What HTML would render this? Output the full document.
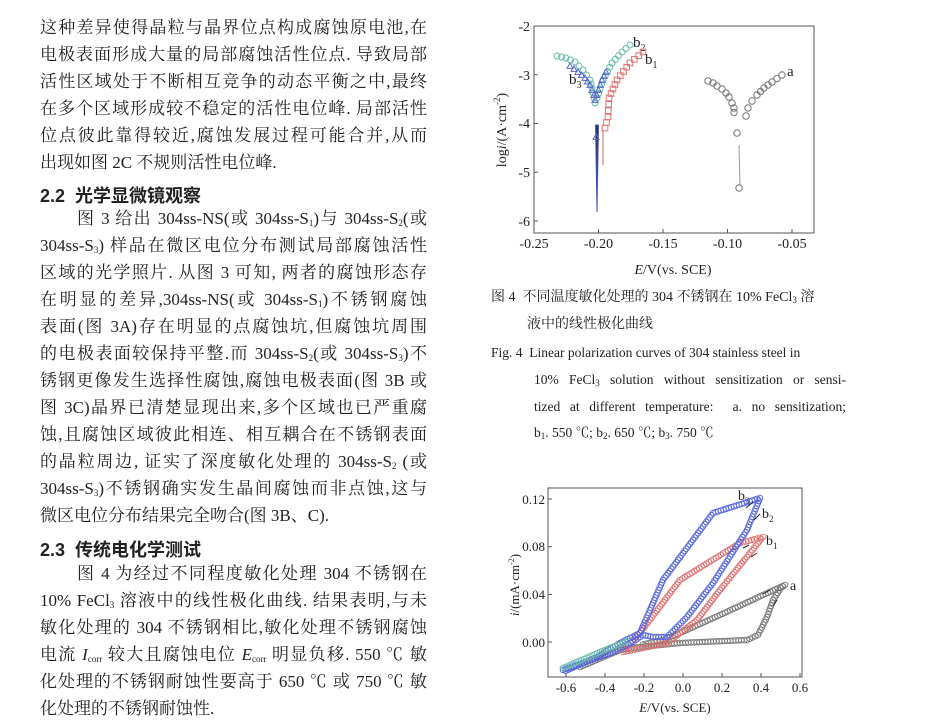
<!DOCTYPE html>
<html><head><meta charset="utf-8">
<style>
html,body{margin:0;padding:0;background:#fff;}
body{width:941px;height:724px;position:relative;overflow:hidden;font-family:"Liberation Serif","Noto Serif CJK SC","Noto Sans CJK SC",serif;color:#222;}
.l{position:absolute;left:40px;width:387px;font-size:17px;line-height:20px;white-space:nowrap;text-align:justify;text-align-last:justify;}
.s{text-align-last:left;}
.h{position:absolute;left:40px;font-size:18px;font-weight:bold;font-family:"Liberation Sans","Noto Sans CJK SC",sans-serif;}
.c{position:absolute;font-size:14px;line-height:18px;white-space:nowrap;}
sub{font-size:9px;vertical-align:-2px;line-height:0;}
svg{position:absolute;left:0;top:0;}
svg text{font-family:"Liberation Serif",serif;fill:#222;}
</style></head><body>
<div class="l" style="top:18px">这种差异使得晶粒与晶界位点构成腐蚀原电池,在</div>
<div class="l" style="top:45px">电极表面形成大量的局部腐蚀活性位点. 导致局部</div>
<div class="l" style="top:72px">活性区域处于不断相互竞争的动态平衡之中,最终</div>
<div class="l" style="top:99px">在多个区域形成较不稳定的活性电位峰. 局部活性</div>
<div class="l" style="top:126px">位点彼此靠得较近,腐蚀发展过程可能合并,从而</div>
<div class="l s" style="top:153px">出现如图 2C 不规则活性电位峰.</div>
<div class="h" style="top:182px">2.2&nbsp;&nbsp;光学显微镜观察</div>
<div class="l" style="top:209px;padding-left:37px;width:350px">图 3 给出 304ss-NS(或 304ss-S<sub>1</sub>)与 304ss-S<sub>2</sub>(或</div>
<div class="l" style="top:236px">304ss-S<sub>3</sub>) 样品在微区电位分布测试局部腐蚀活性</div>
<div class="l" style="top:263px">区域的光学照片. 从图 3 可知, 两者的腐蚀形态存</div>
<div class="l" style="top:290px">在明显的差异,304ss-NS(或 304ss-S<sub>1</sub>)不锈钢腐蚀</div>
<div class="l" style="top:317px">表面(图 3A)存在明显的点腐蚀坑,但腐蚀坑周围</div>
<div class="l" style="top:344px">的电极表面较保持平整.而 304ss-S<sub>2</sub>(或 304ss-S<sub>3</sub>)不</div>
<div class="l" style="top:371px">锈钢更像发生选择性腐蚀,腐蚀电极表面(图 3B 或</div>
<div class="l" style="top:398px">图 3C)晶界已清楚显现出来,多个区域也已严重腐</div>
<div class="l" style="top:425px">蚀,且腐蚀区域彼此相连、相互耦合在不锈钢表面</div>
<div class="l" style="top:452px">的晶粒周边, 证实了深度敏化处理的 304ss-S<sub>2</sub> (或</div>
<div class="l" style="top:479px">304ss-S<sub>3</sub>)不锈钢确实发生晶间腐蚀而非点蚀,这与</div>
<div class="l s" style="top:506px">微区电位分布结果完全吻合(图 3B、C).</div>
<div class="h" style="top:536px">2.3&nbsp;&nbsp;传统电化学测试</div>
<div class="l" style="top:564px;padding-left:37px;width:350px">图 4 为经过不同程度敏化处理 304 不锈钢在</div>
<div class="l" style="top:591px">10% FeCl<sub>3</sub> 溶液中的线性极化曲线. 结果表明,与未</div>
<div class="l" style="top:618px">敏化处理的 304 不锈钢相比,敏化处理不锈钢腐蚀</div>
<div class="l" style="top:645px">电流 <i>I</i><sub>corr</sub> 较大且腐蚀电位 <i>E</i><sub>corr</sub> 明显负移. 550 ℃ 敏</div>
<div class="l" style="top:672px">化处理的不锈钢耐蚀性要高于 650 ℃ 或 750 ℃ 敏</div>
<div class="l s" style="top:699px">化处理的不锈钢耐蚀性.</div>

<div class="c" style="left:491px;top:289px">图 4&nbsp;&nbsp;不同温度敏化处理的 304 不锈钢在 10% FeCl<sub>3</sub> 溶</div>
<div class="c" style="left:527px;top:316px">液中的线性极化曲线</div>
<div class="c" style="left:491px;top:344px;font-size:13.5px">Fig. 4&nbsp;&nbsp;Linear polarization curves of 304 stainless steel in</div>
<div class="c" style="left:534px;top:371px;font-size:13.5px;width:312px;text-align:justify;text-align-last:justify">10% FeCl<sub>3</sub> solution without sensitization or sensi-</div>
<div class="c" style="left:534px;top:398px;font-size:13.5px;width:312px;text-align:justify;text-align-last:justify">tized at different temperature:&nbsp; a. no sensitization;</div>
<div class="c" style="left:534px;top:424px;font-size:13.5px">b<sub>1</sub>. 550 ℃; b<sub>2</sub>. 650 ℃; b<sub>3</sub>. 750 ℃</div>

<svg id="sv" width="941" height="724" viewBox="0 0 941 724">
<rect x="534" y="26" width="280" height="207" fill="none" stroke="#555" stroke-width="1"/>
<g stroke="#555" stroke-width="1">
<line x1="534" y1="26" x2="538" y2="26"/><line x1="534" y1="74.75" x2="538" y2="74.75"/><line x1="534" y1="123.5" x2="538" y2="123.5"/><line x1="534" y1="172.25" x2="538" y2="172.25"/><line x1="534" y1="221" x2="538" y2="221"/>
<line x1="598.5" y1="233" x2="598.5" y2="229"/><line x1="663" y1="233" x2="663" y2="229"/><line x1="727.5" y1="233" x2="727.5" y2="229"/><line x1="792" y1="233" x2="792" y2="229"/>
</g>
<g font-size="14" text-anchor="end">
<text x="530" y="31">-2</text><text x="530" y="80">-3</text><text x="530" y="128">-4</text><text x="530" y="177">-5</text><text x="530" y="226">-6</text>
</g>
<g font-size="14" text-anchor="middle">
<text x="534" y="248">-0.25</text><text x="598.5" y="248">-0.20</text><text x="663" y="248">-0.15</text><text x="727.5" y="248">-0.10</text><text x="792" y="248">-0.05</text>
<text x="673" y="274"><tspan font-style="italic">E</tspan>/V(vs. SCE)</text>
</g>
<text transform="translate(506,130) rotate(-90)" font-size="14" text-anchor="middle">log<tspan font-style="italic">i</tspan>/(A·cm<tspan font-size="9" dy="-6">-2</tspan><tspan dy="6">)</tspan></text>
<g font-size="15">
<text x="787" y="76">a</text>
<text x="633" y="47">b<tspan font-size="10" dy="4">2</tspan></text>
<text x="645" y="64">b<tspan font-size="10" dy="4">1</tspan></text>
<text x="569" y="84">b<tspan font-size="10" dy="4">3</tspan></text>
</g>
<path d="M595.5 125 L597 212 L598.5 125 Z" fill="#334" stroke="#4455bb" stroke-width="1"/>
<line x1="603" y1="130" x2="603" y2="165" stroke="#e08070" stroke-width="1.2"/>
<line x1="739" y1="145" x2="740" y2="185" stroke="#999" stroke-width="1"/>
<g id="g1"></g>

<rect x="548" y="488" width="254" height="189" fill="none" stroke="#555" stroke-width="1"/>
<g stroke="#555" stroke-width="1">
<line x1="548" y1="499" x2="552" y2="499"/><line x1="548" y1="546.7" x2="552" y2="546.7"/><line x1="548" y1="594.4" x2="552" y2="594.4"/><line x1="548" y1="642" x2="552" y2="642"/>
<line x1="566" y1="677" x2="566" y2="673"/><line x1="605" y1="677" x2="605" y2="673"/><line x1="644" y1="677" x2="644" y2="673"/><line x1="683" y1="677" x2="683" y2="673"/><line x1="722" y1="677" x2="722" y2="673"/><line x1="761" y1="677" x2="761" y2="673"/><line x1="800" y1="677" x2="800" y2="673"/>
</g>
<g font-size="13" text-anchor="end">
<text x="545" y="504">0.12</text><text x="545" y="551">0.08</text><text x="545" y="599">0.04</text><text x="545" y="647">0.00</text>
</g>
<g font-size="13" text-anchor="middle">
<text x="566" y="692">-0.6</text><text x="605" y="692">-0.4</text><text x="644" y="692">-0.2</text><text x="683" y="692">0.0</text><text x="722" y="692">0.2</text><text x="761" y="692">0.4</text><text x="800" y="692">0.6</text>
<text x="675" y="712"><tspan font-style="italic">E</tspan>/V(vs. SCE)</text>
</g>
<text transform="translate(519,585) rotate(-90)" font-size="13" text-anchor="middle"><tspan font-style="italic">i</tspan>/(mA·cm<tspan font-size="8" dy="-5">-2</tspan><tspan dy="5">)</tspan></text>
<g font-size="14">
<text x="790" y="590">a</text>
<text x="766" y="545">b<tspan font-size="9" dy="4">1</tspan></text>
<text x="762" y="518">b<tspan font-size="9" dy="4">2</tspan></text>
<text x="738" y="500">b<tspan font-size="9" dy="4">3</tspan></text>
</g>
<g id="g2"></g>
<g stroke="#222" stroke-width="1" fill="#222">
<line x1="753" y1="502" x2="746" y2="508"/><line x1="754" y1="520" x2="760" y2="514"/>
<line x1="749" y1="545" x2="743" y2="548"/><line x1="751" y1="557" x2="757" y2="553"/>
<line x1="770" y1="590" x2="763" y2="594"/><line x1="773" y1="606" x2="777" y2="600"/>
</g>
</svg>
<script>
var NS="http://www.w3.org/2000/svg";
function along(g,pts,step,col,r,shape,sw){
  for(var i=0;i<pts.length-1;i++){
    var a=pts[i],b=pts[i+1],dx=b[0]-a[0],dy=b[1]-a[1],d=Math.sqrt(dx*dx+dy*dy),n=Math.max(1,Math.round(d/step));
    for(var k=0;k<n;k++){
      var x=a[0]+dx*k/n,y=a[1]+dy*k/n,e;
      if(shape=='s'){e=document.createElementNS(NS,'rect');e.setAttribute('x',x-r);e.setAttribute('y',y-r);e.setAttribute('width',2*r);e.setAttribute('height',2*r);}
      else if(shape=='t'){e=document.createElementNS(NS,'polygon');e.setAttribute('points',(x)+','+(y-r)+' '+(x-r)+','+(y+r*0.8)+' '+(x+r)+','+(y+r*0.8));}
      else {e=document.createElementNS(NS,'circle');e.setAttribute('cx',x);e.setAttribute('cy',y);e.setAttribute('r',r);}
      e.setAttribute('fill','none');e.setAttribute('stroke',col);e.setAttribute('stroke-width',sw||1);
      g.appendChild(e);
    }
  }
}
var g1=document.getElementById('g1');
along(g1,[[708,81],[713,83],[717,86],[722,89],[726,93],[729,97],[732,103],[734,108],[734,117]],5.5,'#777',3.2);
along(g1,[[737,133],[742,130]],5,'#777',3.2);
along(g1,[[746,116],[748,108],[752,101],[757,95],[764,88],[772,82],[782,75],[783,75]],5.5,'#777',3.2);
along(g1,[[739,188],[740,189]],5,'#777',3.2);
along(g1,[[557,56],[566,58],[575,62],[583,70],[590,80],[592,88],[594,98],[596,108]],5,'#66bbaa',3);
along(g1,[[597,98],[603,80],[612,63],[622,52],[630,45],[632,44]],5,'#66bbaa',3);
along(g1,[[570,66],[578,72],[585,78],[590,85],[592,90],[596,100]],4.5,'#5566cc',3,'t');
along(g1,[[595,100],[602,80],[608,68]],5,'#5566cc',3,'t');
along(g1,[[596,137],[597,138]],4,'#5566cc',3,'t');
along(g1,[[605,128],[608,117],[609,98],[617,80],[630,63],[643,52],[644,52]],5.5,'#e07070',2.8,'s');
var g2=document.getElementById('g2');
along(g2,[[580,667],[620,650],[640,647],[680,643],[747,640],[758,635],[767,617],[773,600],[781,588],[785,585]],2.8,'#777',2.8,null,0.9);
along(g2,[[785,585],[763,595],[720,615],[680,633],[663,640],[640,645]],2.8,'#777',2.8,null,0.9);
along(g2,[[623,652],[667,643],[697,620],[720,590],[763,537]],2.8,'#e07070',2.8,null,0.9);
along(g2,[[763,537],[740,543],[680,580],[640,633],[623,650]],2.8,'#e07070',2.8,null,0.9);
along(g2,[[563,670],[613,652],[633,642],[643,635],[653,637],[667,637],[687,617],[713,583],[747,530],[760,498]],2.8,'#5566dd',2.8,null,0.9);
along(g2,[[760,498],[713,513],[663,580],[640,633],[620,643],[597,657],[563,672]],2.8,'#5566dd',2.8,null,0.9);
along(g2,[[563,668],[600,652],[630,640]],2.8,'#66bbaa',2.8,null,0.9);
</script>
</body></html>
